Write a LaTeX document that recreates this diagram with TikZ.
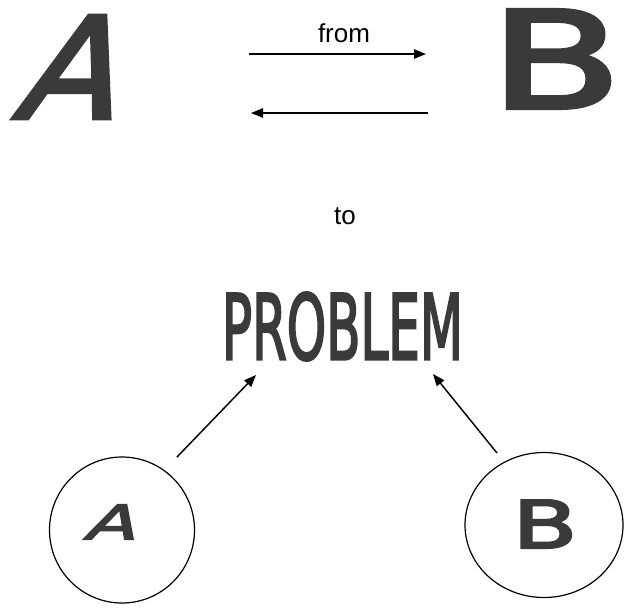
\documentclass[tikz,border=0pt]{standalone}
\usepackage{fontspec}
\setmainfont{Liberation Sans}
\newfontfamily\markerfont{DejaVu Sans}[FakeBold=3]
\usepackage{xcolor}
\usetikzlibrary{shapes.geometric,arrows.meta,positioning}
\definecolor{ink}{HTML}{3A3A3A}

\begin{document}
\begin{tikzpicture}[
x=0.75pt, y=-0.75pt,
bigletter/.style={
    inner sep=0pt,
    text=ink,
    font=\markerfont
},
wordlabel/.style={inner sep=0pt, font=\fontsize{19.5}{21}\selectfont},
ring/.style={draw, ellipse, line width=0.9pt, inner sep=0pt},
arrow/.style={-{Triangle[length=9pt,width=7pt]}, line width=1.1pt}
]
\useasboundingbox (0,0) rectangle (624,608);

\node[bigletter, xslant=0.35] (bigA) at (79,67) {\resizebox{74pt}{77pt}{A}};
\node[bigletter] (bigB) at (556,59) {\resizebox{99pt}{73.5pt}{B}};
\node[wordlabel] (from) at (344,33) {from};
\node[wordlabel] (to) at (345,216) {to};
\node[bigletter] (problem) at (342.5,326.5) {\resizebox{180.75pt}{50.25pt}{PROBLEM}};

\node[ring, minimum width=108.75pt, minimum height=109.5pt] (circA) at (122,530) {};
\node[ring, minimum width=118.5pt, minimum height=108.75pt] (circB) at (544,525) {};
\node[bigletter, xslant=0.4] (smallA) at (115,522) {\resizebox{38pt}{26.25pt}{A}};
\node[bigletter] (smallB) at (545,524) {\resizebox{48.75pt}{36pt}{B}};

\coordinate (fromtail) at (249,54);
\coordinate (fromhead) at (426,54);
\coordinate (backtail) at (428,113);
\coordinate (backhead) at (251,113);
\coordinate (atail) at (177,457);
\coordinate (ahead) at (256,375);
\coordinate (btail) at (497,453);
\coordinate (bhead) at (433,374);

\draw[arrow] (fromtail) -- (fromhead);
\draw[arrow] (backtail) -- (backhead);
\draw[arrow] (atail) -- (ahead);
\draw[arrow] (btail) -- (bhead);

\end{tikzpicture}
\end{document}
